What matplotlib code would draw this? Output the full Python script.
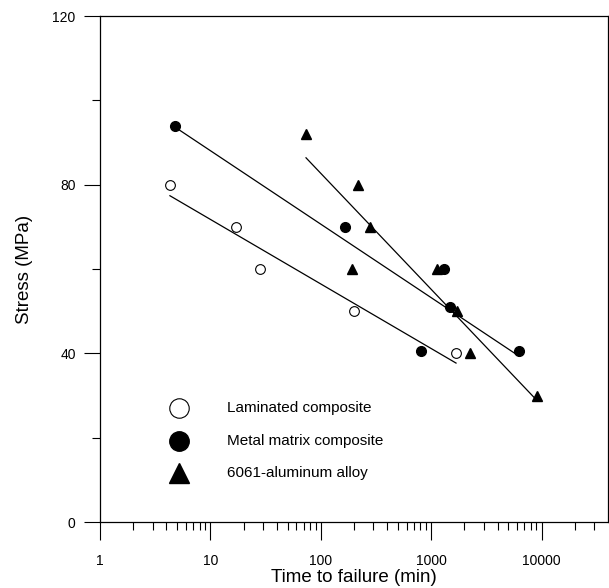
import numpy as np
import matplotlib
matplotlib.use("Agg")
import matplotlib.pyplot as plt
from matplotlib.ticker import FixedLocator, NullFormatter

# Data (time to failure in minutes, stress in MPa)
lam_time = [4.3, 17.1, 28.1, 200, 1680]
lam_stress = [80, 70, 60, 50, 40]

mmc_time = [4.8, 166, 1306, 1480, 809, 6240]
mmc_stress = [94, 70, 60, 51, 40.5, 40.5]

al_time = [73.5, 217, 279, 192, 1130, 1712, 2240, 9100]
al_stress = [92, 80, 70, 60, 60, 50, 40, 30]

labels = ["Laminated composite", "Metal matrix composite", "6061-aluminum alloy"]
x_ticks = [1, 10, 100, 1000, 10000]
x_ticklabels = ["1", "10", "100", "1000", "10000"]
y_ticks = [0, 40, 80, 120]

narrow = ['Liberation Sans Narrow', 'Liberation Sans', 'DejaVu Sans']
sans = ['Liberation Sans', 'DejaVu Sans']

fig = plt.figure(figsize=(6.09, 5.88), dpi=100)
W, H = 609, 588
ax = fig.add_axes([100 / W, (H - 522) / H, (608 - 100) / W, (522 - 16) / H])

def fit_line(t, s):
    lt = np.log10(t)
    k, b = np.polyfit(lt, s, 1)
    xs = np.array([min(lt), max(lt)])
    return 10 ** xs, k * xs + b

for t, s in [(lam_time, lam_stress), (mmc_time, mmc_stress), (al_time, al_stress)]:
    fx, fy = fit_line(t, s)
    ax.plot(fx, fy, color='black', lw=0.9, zorder=2)

ms = 7
ax.plot(lam_time, lam_stress, 'o', ms=ms, mfc='white', mec='black', mew=0.8, ls='none', zorder=3)
ax.plot(mmc_time, mmc_stress, 'o', ms=ms, mfc='black', mec='black', ls='none', zorder=3)
ax.plot(al_time, al_stress, '^', ms=ms, mfc='black', mec='black', ls='none', zorder=3)

ax.set_xscale('log')
ax.set_xlim(1, 40000)
ax.set_ylim(0, 120)

ax.xaxis.set_major_locator(FixedLocator(x_ticks))
ax.set_xticklabels(x_ticklabels, family=narrow, fontsize=10)
minor = [m * 10 ** e for e in range(0, 5) for m in range(2, 10) if m * 10 ** e < 40000]
ax.xaxis.set_minor_locator(FixedLocator(minor))
ax.xaxis.set_minor_formatter(NullFormatter())
ax.set_yticks(y_ticks)
ax.set_yticklabels([str(v) for v in y_ticks], family=narrow, fontsize=10)
ax.set_yticks([20, 60, 100], minor=True)

ax.tick_params(axis='x', which='major', direction='out', length=13, width=0.8, pad=10)
ax.tick_params(axis='x', which='minor', direction='out', length=6, width=0.8)
ax.tick_params(axis='y', which='major', direction='out', length=11.5, width=0.8, pad=6)
ax.tick_params(axis='y', which='minor', direction='out', length=5.8, width=0.8)

for sp in ax.spines.values():
    sp.set_linewidth(0.9)

ax.set_xlabel("Time to failure (min)", family=sans, fontsize=13.5, labelpad=1)
ax.set_ylabel("Stress (MPa)", family=sans, fontsize=13.5, labelpad=14)

# Legend drawn in axes coordinates
leg_x_marker = (179 - 100) / 508
leg_x_text = (227 - 100) / 508
leg_ys = [(522 - 408) / 506, (522 - 441) / 506, (522 - 473) / 506]
styles = [
    dict(marker='o', mfc='white', mec='black', mew=0.8),
    dict(marker='o', mfc='black', mec='black'),
    dict(marker='^', mfc='black', mec='black'),
]
for yy, st, lab in zip(leg_ys, styles, labels):
    ax.plot([leg_x_marker], [yy], ls='none', ms=14, transform=ax.transAxes, clip_on=False, **st)
    ax.text(leg_x_text, yy, lab, transform=ax.transAxes, va='center', ha='left',
            family=sans, fontsize=11)

fig.savefig("out.png", dpi=100)
